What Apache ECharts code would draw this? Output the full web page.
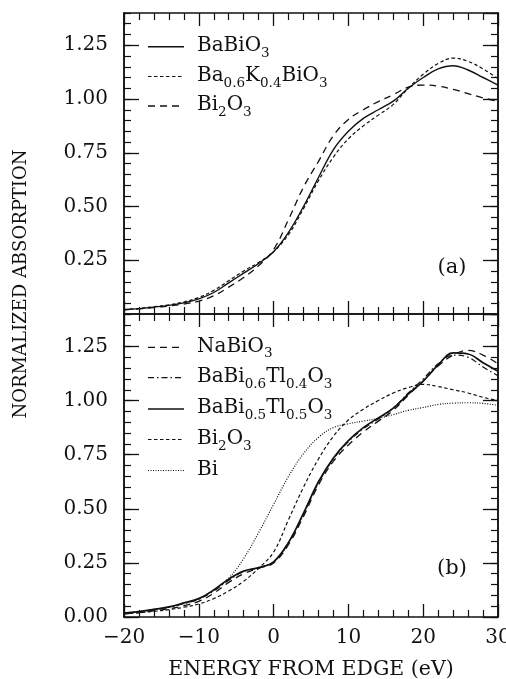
<!DOCTYPE html>
<html>
<head>
<meta charset="utf-8">
<script src="https://cdn.jsdelivr.net/npm/echarts@6/dist/echarts.min.js"></script>
<style>
html,body{margin:0;padding:0;background:#fff;}
#chart{width:506px;height:679px;}
</style>
</head>
<body>
<div id="chart"></div>
<script>
// ---- data ----
const energy = [-20,-18,-16,-14,-12,-10,-8,-6,-4,-2,0,2,4,6,8,10,12,14,16,18,20,22,24,26,28,30];

// panel (a)
const aBaBiO3 = [0.020,0.025,0.032,0.040,0.052,0.070,0.100,0.145,0.190,0.235,0.290,0.380,0.500,0.635,0.765,0.850,0.910,0.950,0.990,1.050,1.100,1.140,1.155,1.135,1.100,1.065];
const aBaKBiO3 = [0.020,0.026,0.034,0.043,0.056,0.077,0.110,0.155,0.200,0.240,0.290,0.370,0.490,0.620,0.730,0.815,0.875,0.925,0.975,1.050,1.115,1.165,1.190,1.175,1.140,1.095];
const aBi2O3   = [0.020,0.024,0.030,0.037,0.046,0.060,0.085,0.125,0.170,0.225,0.300,0.440,0.590,0.710,0.830,0.905,0.950,0.988,1.020,1.055,1.065,1.060,1.045,1.025,1.005,0.990];

// panel (b)
const bNaBiO3  = [0.015,0.020,0.028,0.038,0.052,0.072,0.110,0.160,0.200,0.225,0.250,0.335,0.465,0.610,0.720,0.795,0.855,0.905,0.955,1.025,1.090,1.160,1.210,1.232,1.210,1.170];
const bTl04    = [0.018,0.024,0.033,0.045,0.062,0.082,0.120,0.170,0.210,0.228,0.255,0.345,0.475,0.620,0.730,0.810,0.870,0.915,0.965,1.035,1.100,1.170,1.210,1.200,1.155,1.115];
const bTl05    = [0.018,0.025,0.035,0.047,0.065,0.085,0.125,0.175,0.212,0.228,0.255,0.345,0.480,0.625,0.735,0.815,0.875,0.920,0.965,1.030,1.090,1.165,1.220,1.215,1.175,1.135];
const bBi2O3   = [0.015,0.020,0.026,0.034,0.045,0.060,0.085,0.120,0.165,0.225,0.300,0.450,0.600,0.730,0.835,0.910,0.960,1.000,1.035,1.060,1.075,1.065,1.050,1.035,1.015,1.000];
const bBi      = [0.020,0.026,0.035,0.046,0.062,0.085,0.125,0.180,0.270,0.390,0.520,0.650,0.755,0.830,0.875,0.893,0.905,0.918,0.935,0.955,0.968,0.982,0.988,0.990,0.987,0.978];

// legend labels (rich text: m = main, s = subscript)
const namesA = ['{m|BaBiO}{s|3}', '{m|Ba}{s|0.6}{m|K}{s|0.4}{m|BiO}{s|3}', '{m|Bi}{s|2}{m|O}{s|3}'];
const namesB = ['{m|NaBiO}{s|3}', '{m|BaBi}{s|0.6}{m|Tl}{s|0.4}{m|O}{s|3}', '{m|BaBi}{s|0.5}{m|Tl}{s|0.5}{m|O}{s|3}', '{m|Bi}{s|2}{m|O}{s|3}', '{m|Bi}'];
const panelLabels = ['(a)', '(b)'];
const xTitle = 'ENERGY FROM EDGE (eV)';
const yTitle = 'NORMALIZED ABSORPTION';

// ---- styles ----
const FONT = 'DejaVu Serif';
const INK = '#111';
const stylesA = [
  {width: 1.4, type: 'solid'},
  {width: 1.2, type: [3.5, 2.5]},
  {width: 1.3, type: [7, 5]}
];
const stylesB = [
  {width: 1.3, type: [7, 5]},
  {width: 1.2, type: [6, 3, 1.5, 3]},
  {width: 1.7, type: 'solid'},
  {width: 1.2, type: [3.5, 2.5]},
  {width: 1.2, type: [1, 1.5]}
];
const seriesA = [aBaBiO3, aBaKBiO3, aBi2O3];
const seriesB = [bNaBiO3, bTl04, bTl05, bBi2O3, bBi];

const GL = 124, GW = 374;
const grids = [
  {left: GL, width: GW, top: 13, height: 301, outerBoundsMode: 'none'},
  {left: GL, width: GW, top: 314, height: 303, outerBoundsMode: 'none'}
];

const fmtX = v => (v < 0 ? '\u2212' + (-v) : String(v));

function xAx(grid, pos, labels) {
  return {
    type: 'value', gridIndex: grid, position: pos, min: -20, max: 30, interval: 10,
    axisLine: {show: true, onZero: false, lineStyle: {color: INK, width: 1.5}},
    axisTick: {show: true, inside: true, length: 13, lineStyle: {color: INK, width: 1.3}},
    minorTick: {show: true, splitNumber: 5, length: 7, lineStyle: {color: INK, width: 1.2}},
    splitLine: {show: false}, minorSplitLine: {show: false},
    axisLabel: {show: labels, margin: 11, fontFamily: FONT, fontSize: 20, color: INK, formatter: fmtX, hideOverlap: false}
  };
}
function yAx(grid, pos, major, labels, showMin) {
  return {
    type: 'value', gridIndex: grid, position: pos, min: 0, max: 1.4, interval: major ? 0.25 : 0.05,
    axisLine: {show: true, onZero: false, lineStyle: {color: INK, width: 1.5}},
    axisTick: {show: true, inside: true, length: major ? 15 : 7, lineStyle: {color: INK, width: major ? 1.3 : 1.2}},
    splitLine: {show: false},
    axisLabel: {show: labels, margin: 16, fontFamily: FONT, fontSize: 20, color: INK,
      showMinLabel: showMin, showMaxLabel: false, hideOverlap: false,
      formatter: v => (Math.abs(v - 1.4) < 1e-6 ? '' : v.toFixed(2))}
  };
}

const xAxis = [xAx(0, 'bottom', false), xAx(0, 'top', false), xAx(1, 'bottom', true), xAx(1, 'top', false)];
const yAxis = [
  yAx(0, 'left', true, true, false), yAx(0, 'left', false, false, false),
  yAx(0, 'right', true, false, false), yAx(0, 'right', false, false, false),
  yAx(1, 'left', true, true, true), yAx(1, 'left', false, false, false),
  yAx(1, 'right', true, false, false), yAx(1, 'right', false, false, false)
];

const series = [];
seriesA.forEach((arr, i) => series.push({
  type: 'line', xAxisIndex: 0, yAxisIndex: 0, symbol: 'none', smooth: 0.4,
  data: energy.map((e, k) => [e, arr[k]]),
  lineStyle: {color: INK, width: stylesA[i].width, type: stylesA[i].type}, silent: true
}));
seriesB.forEach((arr, i) => series.push({
  type: 'line', xAxisIndex: 2, yAxisIndex: 4, symbol: 'none', smooth: 0.4,
  data: energy.map((e, k) => [e, arr[k]]),
  lineStyle: {color: INK, width: stylesB[i].width, type: stylesB[i].type}, silent: true
}));

const rich = {
  m: {fontFamily: FONT, fontSize: 20, lineHeight: 20, padding: [0, 0, 4, 0], color: INK, verticalAlign: 'top'},
  s: {fontFamily: FONT, fontSize: 13.5, lineHeight: 13.5, padding: [10.5, 0, 0, 0], color: INK, verticalAlign: 'top'}
};

const graphic = [];
function legend(names, styles, ys) {
  names.forEach((n, i) => {
    const st = styles[i];
    graphic.push({type: 'line', shape: {x1: 148, y1: ys[i], x2: 184, y2: ys[i]},
      style: {stroke: INK, lineWidth: st.width, lineDash: st.type === 'solid' ? null : st.type}});
    graphic.push({type: 'text', x: 197, y: ys[i] - 1,
      style: {text: n, rich: rich, fill: INK, verticalAlign: 'middle', textAlign: 'left'}});
  });
}
legend(namesA, stylesA, [46.7, 76.5, 106]);
legend(namesB, stylesB, [347.3, 377.7, 409, 439.5, 470.5]);

graphic.push({type: 'text', x: 452, y: 268, style: {text: panelLabels[0], fontFamily: FONT, fontSize: 21, fill: INK, textAlign: 'center', verticalAlign: 'middle'}});
graphic.push({type: 'text', x: 452, y: 569, style: {text: panelLabels[1], fontFamily: FONT, fontSize: 21, fill: INK, textAlign: 'center', verticalAlign: 'middle'}});
graphic.push({type: 'text', x: 311, y: 670, style: {text: xTitle, fontFamily: FONT, fontSize: 20.5, fill: INK, textAlign: 'center', verticalAlign: 'middle'}});
graphic.push({type: 'text', x: 21, y: 284, rotation: Math.PI / 2, style: {text: yTitle, fontFamily: FONT, fontSize: 18, fill: INK, textAlign: 'center', verticalAlign: 'middle'}});

const chart = echarts.init(document.getElementById('chart'), null, {renderer: 'canvas'});
chart.setOption({
  animation: false,
  backgroundColor: '#fff',
  grid: grids,
  xAxis: xAxis,
  yAxis: yAxis,
  series: series,
  graphic: graphic
});
</script>
</body>
</html>
